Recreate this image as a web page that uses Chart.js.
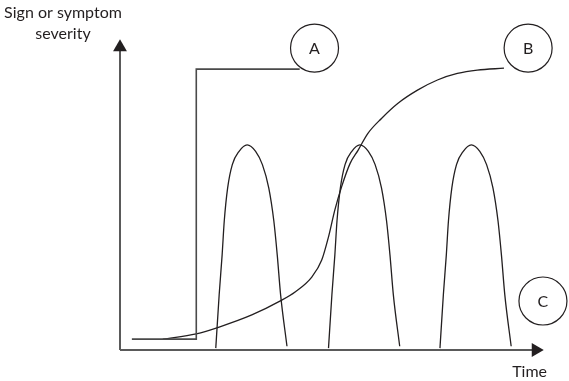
<!DOCTYPE html>
<html>
<head>
<meta charset="utf-8">
<script src="https://cdn.jsdelivr.net/npm/chart.js@4/dist/chart.umd.min.js"></script>
<style>
    html, body { margin: 0; padding: 0; background: #fff; }
    #wrap { width: 569px; height: 381px; position: relative; }
</style>
</head>
<body>
<div id="wrap"><canvas id="severityChart"></canvas></div>
<script>
// 数据：时间 0-100，严重程度 0-100
const stepAX = [2.8, 18.0, 18.0, 42.4];
const stepAY = [3.5, 3.5, 90.6, 90.6];

const curveBX = [10.1, 18.0, 23.4, 31.1, 37.5, 41.4, 45.3, 47.6, 49.2, 50.7, 52.3, 54.3, 56.2, 58.5, 61.7, 65.6, 70.3, 74.9, 79.6, 84.3, 90.6];
const curveBY = [3.5, 5.2, 7.4, 11.3, 15.6, 18.8, 23.6, 29.0, 36.5, 45.2, 52.7, 60.2, 64.5, 69.9, 74.7, 79.6, 83.9, 87.1, 89.2, 90.3, 90.9];

// 三个发作峰
const peak1X = [22.6, 23.4, 24.1, 24.6, 25.4, 26.5, 28.1, 30.0, 32.0, 33.6, 35.1, 36.3, 37.1, 37.9, 39.4];
const peak2X = [49.2, 50.0, 50.7, 51.2, 52.0, 53.1, 54.7, 56.6, 58.6, 60.2, 61.7, 62.9, 63.7, 64.5, 66.0];
const peak3X = [75.5, 76.3, 77.0, 77.5, 78.3, 79.4, 81.0, 82.9, 84.9, 86.5, 88.0, 89.2, 90.0, 90.8, 92.3];
const peakY = [0.6, 17.8, 30.7, 41.6, 52.3, 59.8, 64.1, 66.2, 64.1, 59.8, 52.3, 41.6, 30.7, 17.8, 1.2];

const circleLabels = ['A', 'B', 'C'];
const circleX = [45.9, 96.3, 99.8];
const circleY = [97.4, 97.4, 15.8];

const axisEnd = { x: 98.1, y: 97.7 };

const ink = '#231f20';

function toPoints(xs, ys) {
    return xs.map((x, i) => ({ x: x, y: ys[i] }));
}

function curve(xs, ys) {
    return {
        data: toPoints(xs, ys),
        showLine: true,
        borderColor: ink,
        borderWidth: 1.3,
        pointRadius: 0,
        cubicInterpolationMode: 'monotone',
        clip: false
    };
}

// 文字标注插件
const labelPlugin = {
    id: 'labels',
    afterDatasetsDraw(chart) {
        const ctx = chart.ctx;
        ctx.save();
        ctx.fillStyle = ink;
        ctx.font = '16px Lato, sans-serif';
        ctx.textAlign = 'center';
        ctx.textBaseline = 'alphabetic';
        ctx.fillText('Sign or symptom', 63, 18);
        ctx.fillText('severity', 63, 39);
        ctx.textAlign = 'right';
        ctx.fillText('Time', 547, 377);

        const meta = chart.getDatasetMeta(chart.data.datasets.length - 1);
        ctx.textAlign = 'center';
        ctx.textBaseline = 'middle';
        ctx.font = '16px Lato, sans-serif';
        meta.data.forEach((pt, i) => {
            ctx.fillText(circleLabels[i], pt.x, pt.y + 1);
        });
        ctx.restore();
    }
};

const ctx = document.getElementById('severityChart').getContext('2d');
new Chart(ctx, {
    type: 'scatter',
    data: {
        datasets: [
            {
                data: [{ x: 0, y: 0 }, { x: 0, y: axisEnd.y }],
                showLine: true,
                borderColor: '#5a5a5a',
                borderWidth: 2,
                pointRadius: [0, 8],
                pointStyle: 'triangle',
                pointBackgroundColor: ink,
                pointBorderColor: ink,
                pointBorderWidth: 0,
                clip: false
            },
            {
                data: [{ x: 0, y: 0 }, { x: axisEnd.x, y: 0 }],
                showLine: true,
                borderColor: '#5a5a5a',
                borderWidth: 2,
                pointRadius: [0, 8],
                pointStyle: 'triangle',
                pointRotation: 90,
                pointBackgroundColor: ink,
                pointBorderColor: ink,
                pointBorderWidth: 0,
                clip: false
            },
            Object.assign(curve(stepAX, stepAY), { cubicInterpolationMode: 'default', tension: 0, borderColor: '#4a4a4a', borderWidth: 1.6 }),
            curve(curveBX, curveBY),
            curve(peak1X, peakY),
            curve(peak2X, peakY),
            curve(peak3X, peakY),
            {
                data: toPoints(circleX, circleY),
                showLine: false,
                pointStyle: 'circle',
                pointRadius: 24,
                pointBackgroundColor: '#fff',
                pointBorderColor: ink,
                pointBorderWidth: 1.2,
                clip: false
            }
        ]
    },
    options: {
        responsive: true,
        maintainAspectRatio: false,
        animation: false,
        events: [],
        layout: {
            padding: { left: 120, right: 22, top: 40, bottom: 31 }
        },
        plugins: {
            legend: { display: false },
            tooltip: { enabled: false }
        },
        scales: {
            x: { type: 'linear', min: 0, max: 100, display: false },
            y: { type: 'linear', min: 0, max: 100, display: false }
        }
    },
    plugins: [labelPlugin]
});
</script>
</body>
</html>
